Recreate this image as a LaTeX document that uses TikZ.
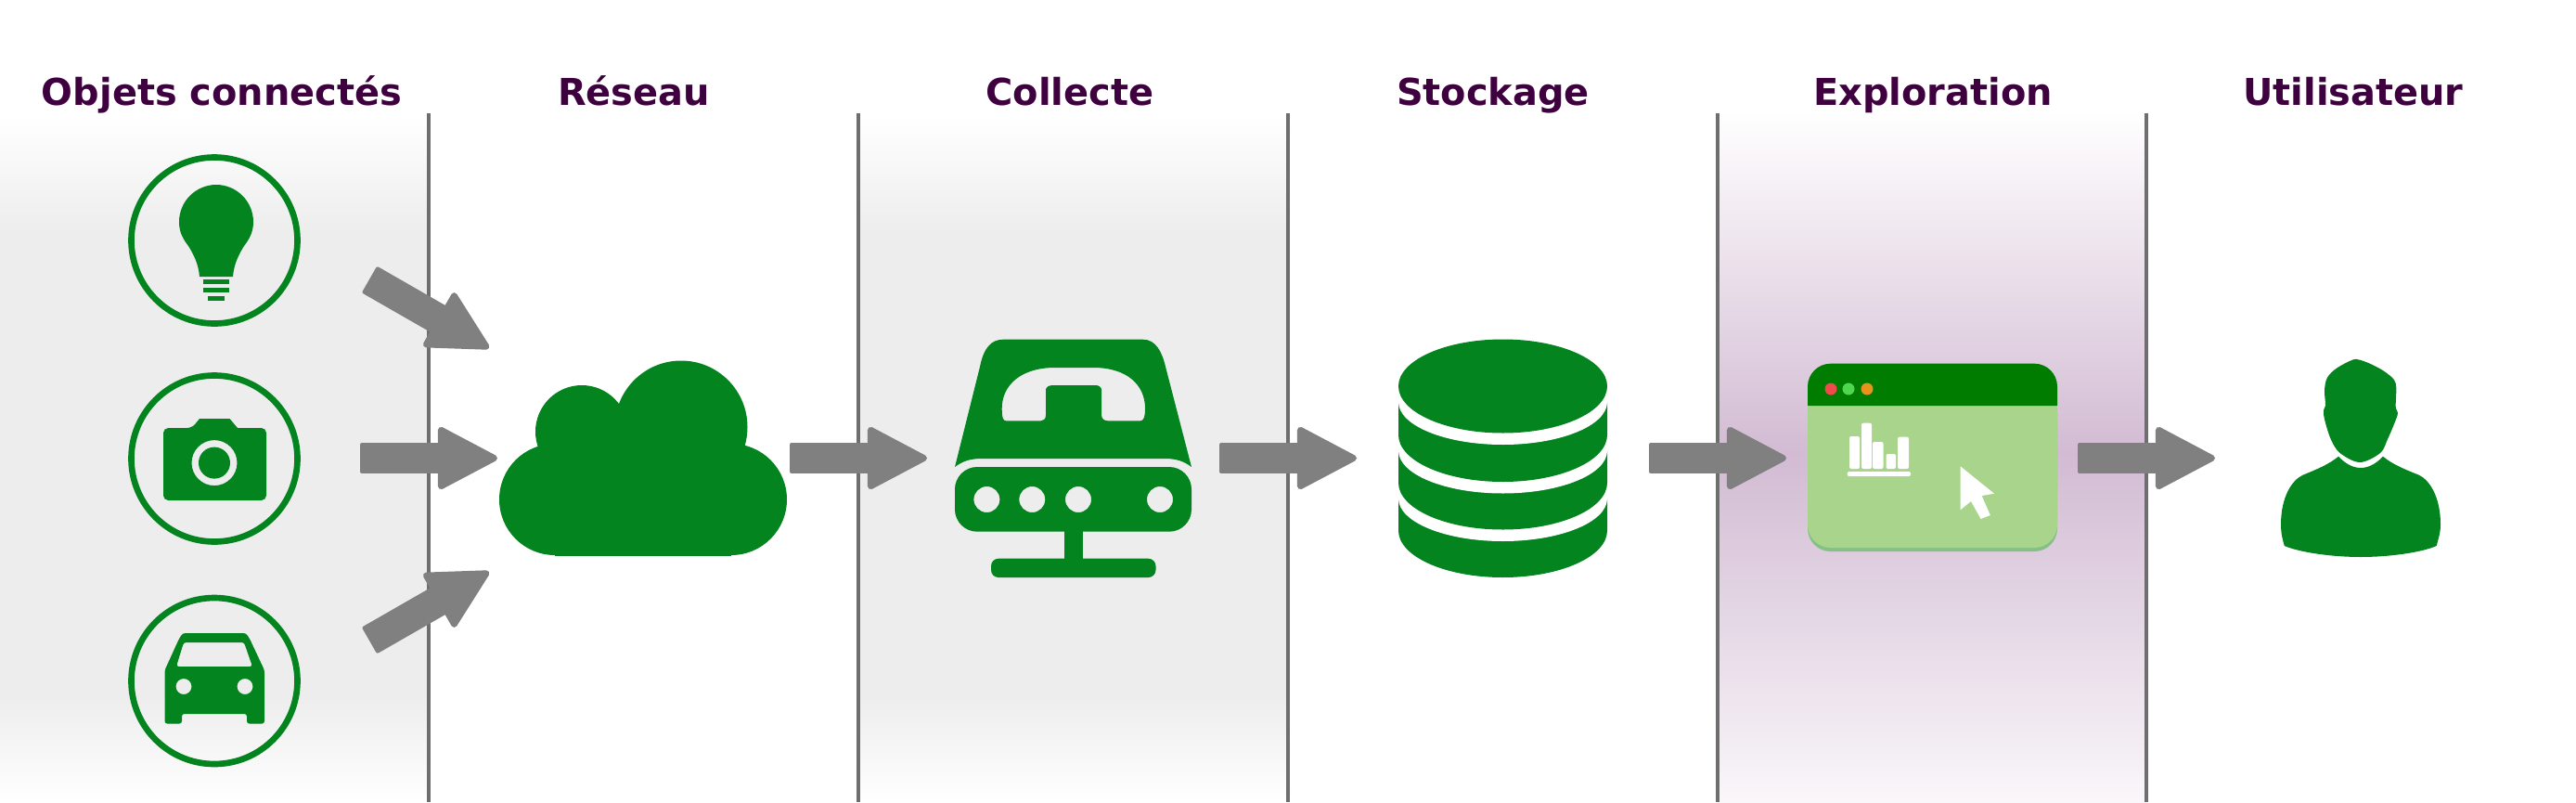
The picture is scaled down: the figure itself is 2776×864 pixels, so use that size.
\documentclass[tikz,border=0pt]{standalone}
\usepackage{fontspec}
\setmainfont{DejaVu Sans}
\usetikzlibrary{arrows.meta}
\definecolor{icongreen}{HTML}{03841E}
\definecolor{titleplum}{HTML}{3F003F}
\definecolor{bandgray}{HTML}{EDEDED}
\definecolor{bandplum}{HTML}{D2BBD3}
\definecolor{windowbody}{HTML}{A8D48C}
\definecolor{windowedge}{HTML}{85C085}
\definecolor{windowbar}{HTML}{007C00}
\definecolor{dotred}{HTML}{EF4B4B}
\definecolor{dotgreen}{HTML}{4FD84F}
\definecolor{dotorange}{HTML}{E8941A}
\tikzset{
    titlelabel/.style={anchor=base,inner sep=0pt,text=titleplum,font=\fontsize{29.9}{35}\selectfont\bfseries},
    lane/.style={draw=black!57,line width=2.3pt},
    icon/.style={fill=icongreen,draw=none},
    iconring/.style={draw=icongreen,line width=5pt,fill=none},
    fatarrow/.style={draw=black!50,line width=24.75pt,{Square[length=6pt,width=24.75pt,round,line width=4pt,fill=black!50]}-{Triangle[length=51pt,width=52.5pt,round,line width=5pt,fill=black!50]}},
}
\begin{document}
\begin{tikzpicture}[x=0.75pt,y=0.75pt,yscale=-1,xscale=1]
    \useasboundingbox (0,0) rectangle (2776,864);

    %Bands
    \shade[top color=white,bottom color=bandgray] (0,125) rectangle (462,250);
    \fill[bandgray] (0,249) rectangle (462,750);
    \shade[top color=bandgray,bottom color=white] (0,749) rectangle (462,866);
    \shade[top color=white,bottom color=bandgray] (925,125) rectangle (1388,250);
    \fill[bandgray] (925,249) rectangle (1388,750);
    \shade[top color=bandgray,bottom color=white] (925,749) rectangle (1388,866);
    \shade[top color=white,bottom color=bandplum] (1851,120) rectangle (2313,490);
    \shade[top color=bandplum,bottom color=bandplum!12] (1851,489) rectangle (2313,864);

    %Lanes
    \foreach \lanex in {462,925,1388,1851,2313}
        \draw[lane] (\lanex,122) -- (\lanex,864);

    % Text Node
    \node[titlelabel] (objets) at (239,113) {Objets connectés};
    % Text Node
    \node[titlelabel] (reseau) at (683,113) {Réseau};
    % Text Node
    \node[titlelabel] (collecte) at (1153,113) {Collecte};
    % Text Node
    \node[titlelabel] (stockage) at (1609,113) {Stockage};
    % Text Node
    \node[titlelabel] (exploration) at (2083,113) {Exploration};
    % Text Node
    \node[titlelabel] (utilisateur) at (2536,113) {Utilisateur};

    %Rings
    \draw[iconring] (231,259) circle (89.5);
    \draw[iconring] (231,494) circle (89.5);
    \draw[iconring] (231,733.5) circle (89.5);

    %Bulb
    \fill[icon] (215,298) .. controls (214,284) and (208,273) .. (203,265) .. controls (197,257) and (193,250) .. (193,239) .. controls (193,217) and (211,199) .. (233,199) .. controls (255,199) and (273,217) .. (273,239) .. controls (273,250) and (269,257) .. (263,265) .. controls (258,273) and (252,284) .. (251,298) -- cycle;
    \fill[icon] (219,301) rectangle (247,306);
    \fill[icon] (219,310) rectangle (247,315);
    \fill[icon] (224,319) rectangle (242,324);

    %Camera
    \fill[icon,even odd rule] (176,468) {[rounded corners=4pt] -- (176,461) -- (207,461)} -- (215,451) -- (247.5,451) -- (256,461) {[rounded corners=4pt] -- (287,461) -- (287,539) -- (176,539)} -- cycle
        (231,498.6) circle (24.5) (231,498.6) circle (17);

    %Car
    \fill[icon,even odd rule,rounded corners=2pt] (177.5,722) -- (193,688) -- (197,682) -- (265,682) -- (269,688) -- (285,722) -- (285,779.5) -- (266,779.5) -- (266,769) -- (196,769) -- (196,779.5) -- (177.5,779.5) -- cycle
        (198,692) -- (263,692) -- (272,718) -- (190,718) -- cycle
        (198,739.5) circle (8.5) (264,739.5) circle (8.5);

    %Cloud
    \fill[icon] (598,538) circle (60) (788,538) circle (60) (627,465) circle (50) (734,460) circle (71.5);
    \fill[icon] (598,450) rectangle (788,598.5);

    %Phone
    \fill[icon,even odd rule] (1029,503) -- (1056,395) .. controls (1060,375) and (1068,365.7) .. (1081,365.7) -- (1231.7,365.7) .. controls (1245,365.7) and (1252,378) .. (1256,395) -- (1284,503) .. controls (1276,497) and (1268,494) .. (1254.7,494) -- (1058,494) .. controls (1045,494) and (1037,497) .. (1029,503) -- cycle
        (1084,453.3) -- (1122,453.3) .. controls (1125,453.3) and (1127,451) .. (1127,447) -- (1127,420) .. controls (1127,417) and (1130,415) .. (1135,415) -- (1180.7,415) .. controls (1184,415) and (1187,417) .. (1187,420) -- (1187,447) .. controls (1187,451) and (1190,453.3) .. (1193.5,453.3) -- (1229,453.3) .. controls (1232,453.3) and (1234,450) .. (1234,440) .. controls (1234,415) and (1215,396) .. (1178,396) -- (1137,396) .. controls (1100,396) and (1079.7,415) .. (1079.7,440) .. controls (1079.7,450) and (1081,453.3) .. (1084,453.3) -- cycle;
    \fill[icon,even odd rule] [rounded corners=18pt] (1029,503) rectangle (1284,572.7) [sharp corners]
        (1063.4,538) circle (14) (1112.3,538) circle (14) (1162,538) circle (14) (1250,538) circle (14);
    \fill[icon] (1147,570) rectangle (1167,604);
    \fill[icon,rounded corners=6pt] (1068,601.7) rectangle (1245.5,622);

    %Database
    \fill[icon] (1507,416) -- (1507,571.5) arc (180:0:112.5 and 50.5) -- (1732,416) -- cycle;
    \foreach \discy in {520,468.5,416} {
        \fill[white] (1505,\discy) -- (1505,\discy+17) -- (1507,\discy+17) arc (180:0:112.5 and 46) -- (1734,\discy+17) -- (1734,\discy) -- cycle;
        \fill[icon] (1619.5,\discy) ellipse (112.5 and 50.5);
    }

    %Window
    \fill[windowedge,rounded corners=18.5pt] (1948,420) rectangle (2217,594);
    \fill[windowbody,rounded corners=18.5pt] (1948,420) rectangle (2217,590);
    \fill[windowbar,rounded corners=18.5pt] (1948,437) -- (1948,391.7) -- (2217,391.7) -- (2217,437);
    \fill[dotred] (1973,419) circle (6.5);
    \fill[dotgreen] (1992,419) circle (6.5);
    \fill[dotorange] (2012,419) circle (6.5);
    \foreach \barl/\barr/\bart in {1993/2004/470,2006/2017/455.7,2018/2029.5/476,2032.5/2043/489,2045/2057/470.7}
        \fill[white,rounded corners=1.5pt] (\barl,\bart) rectangle (\barr,505);
    \fill[white,rounded corners=1.5pt] (1990.7,508) rectangle (2059,513);
    \fill[white] (2112.6,502.3) -- (2149,531.7) -- (2135.6,534) -- (2144.8,555) -- (2134.6,559) -- (2124,540) -- (2112.6,549.3) -- cycle;

    %Person
    \fill[icon] plot[smooth cycle,tension=0.55] coordinates {(2535,387.7) (2518,396.7) (2508,406.7) (2505,420) (2506,436.7) (2504,441.7) (2505,451.7) (2511.7,473) (2521.7,488) (2543,498) (2565,488) (2573,473) (2580,456.7) (2584,445) (2581.7,438) (2581.7,413) (2571.7,401.7) (2556.7,393) (2543,387.7)};
    \fill[icon] (2520,491.7) .. controls (2527,499) and (2535,504) .. (2544,504) .. controls (2553,504) and (2561,499) .. (2568,491.7) .. controls (2578,500) and (2590,505) .. (2606.7,511.7) .. controls (2618,517) and (2630,535) .. (2630,565) .. controls (2630,575) and (2627,582) .. (2625.7,588) .. controls (2610,595) and (2575,600) .. (2544,600) .. controls (2513,600) and (2478,595) .. (2461.7,588) .. controls (2460,582) and (2458,575) .. (2458,565) .. controls (2458,535) and (2470,517) .. (2481.7,511.7) .. controls (2498,505) and (2510,500) .. (2520,491.7) -- cycle;

    %Arrows
    \coordinate (bulbout) at (398,301);
    \coordinate (cloudina) at (527,375);
    \coordinate (camout) at (388,493.5);
    \coordinate (cloudinb) at (536,493.5);
    \coordinate (carout) at (398,690);
    \coordinate (cloudinc) at (527,616);
    \coordinate (cloudout) at (851,493.5);
    \coordinate (phonein) at (999,493.5);
    \coordinate (phoneout) at (1314,493.5);
    \coordinate (diskin) at (1462,493.5);
    \coordinate (diskout) at (1777,493.5);
    \coordinate (windowin) at (1925,493.5);
    \coordinate (windowout) at (2239,493.5);
    \coordinate (personin) at (2387,493.5);
    \foreach \tailpt/\headpt in {bulbout/cloudina,camout/cloudinb,carout/cloudinc,cloudout/phonein,phoneout/diskin,diskout/windowin,windowout/personin}
        \draw[fatarrow] (\tailpt) -- (\headpt);
\end{tikzpicture}
\end{document}
